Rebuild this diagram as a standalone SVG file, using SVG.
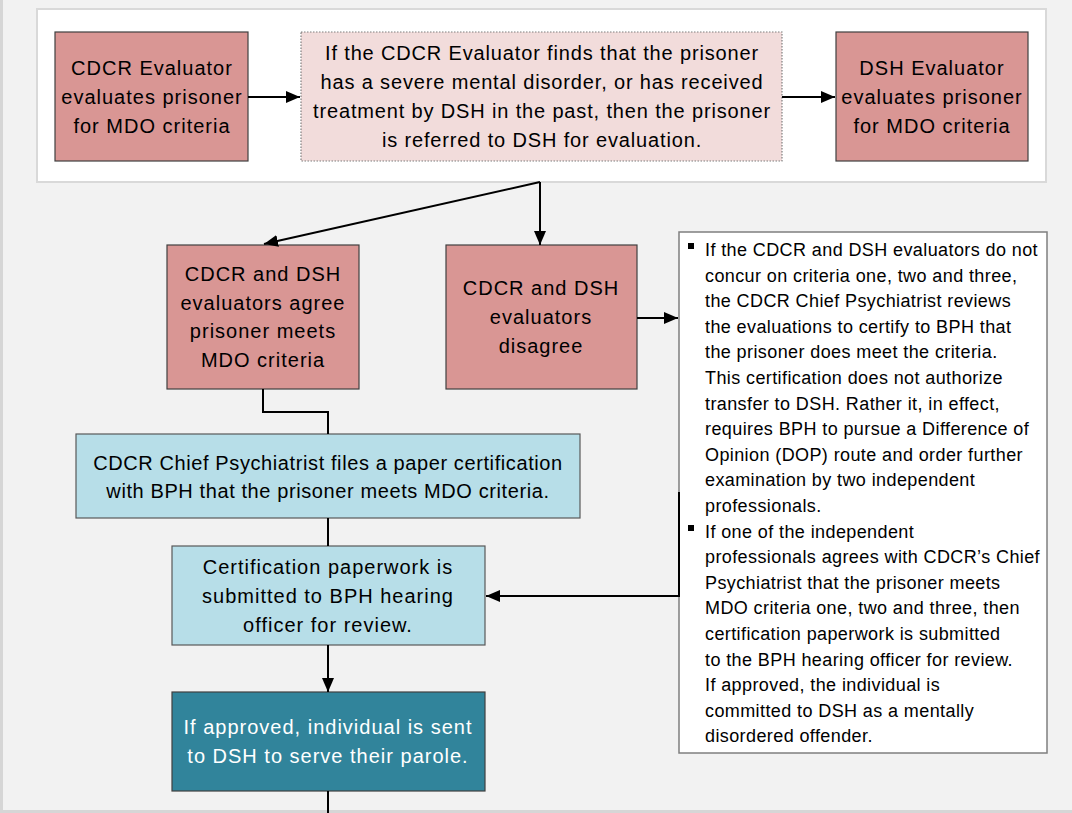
<svg xmlns="http://www.w3.org/2000/svg" width="1072" height="813" viewBox="0 0 1072 813">
<defs>
<marker id="arr" markerUnits="userSpaceOnUse" markerWidth="14" markerHeight="12" refX="14" refY="6" orient="auto">
<path d="M0,0 L14,6 L0,12 z" fill="#000"/>
</marker>
<style>
.bg{fill:#f2f2f2}
.red{fill:#d99694;stroke:#404040;stroke-width:1.2}
.pink{fill:#f2dcdb;stroke:#7f7f7f;stroke-width:1.2;stroke-dasharray:1.5 1.5}
.blue{fill:#b7dee8;stroke:#595959;stroke-width:1.2}
.teal{fill:#31849b;stroke:#404040;stroke-width:1.2}
.note{fill:#fff;stroke:#7f7f7f;stroke-width:1.5}
.t{font-family:"Liberation Sans",Arial,sans-serif;font-size:20px;letter-spacing:1px;fill:#000;text-anchor:middle}
.t2{letter-spacing:0.85px}
.t3{letter-spacing:0.6px}
.w{fill:#fff}
.n{font-family:"Liberation Sans",Arial,sans-serif;font-size:18px;letter-spacing:0.4px;fill:#000}
.c{fill:none;stroke:#000;stroke-width:2}
</style>
</defs>
<rect class="bg" x="0" y="0" width="1072" height="813"/>
<rect x="0" y="0" width="3" height="813" fill="#d6d6d6"/>
<rect x="0" y="810" width="1072" height="3" fill="#d6d6d6"/>
<rect x="37" y="9" width="1009" height="173" fill="#fff" stroke="#d9d9d9" stroke-width="2"/>

<g id="cdcr-evaluator">
<rect class="red" x="55" y="32" width="193" height="129"/>
<text class="t" x="152" y="75">CDCR Evaluator</text>
<text class="t" x="152" y="104">evaluates prisoner</text>
<text class="t" x="152" y="133">for MDO criteria</text>
</g>
<g id="referral">
<rect class="pink" x="301" y="32" width="481" height="129"/>
<text class="t t2" x="542" y="60">If the CDCR Evaluator finds that the prisoner</text>
<text class="t t2" x="542" y="89">has a severe mental disorder, or has received</text>
<text class="t t2" x="542" y="118">treatment by DSH in the past, then the prisoner</text>
<text class="t t2" x="542" y="147">is referred to DSH for evaluation.</text>
</g>
<g id="dsh-evaluator">
<rect class="red" x="836" y="32" width="192" height="129"/>
<text class="t" x="932" y="75">DSH Evaluator</text>
<text class="t" x="932" y="104">evaluates prisoner</text>
<text class="t" x="932" y="133">for MDO criteria</text>
</g>
<g id="agree">
<rect class="red" x="167" y="245" width="192" height="144"/>
<text class="t" x="263" y="281">CDCR and DSH</text>
<text class="t" x="263" y="310">evaluators agree</text>
<text class="t" x="263" y="338">prisoner meets</text>
<text class="t" x="263" y="367">MDO criteria</text>
</g>
<g id="disagree">
<rect class="red" x="446" y="245" width="191" height="144"/>
<text class="t" x="541" y="295">CDCR and DSH</text>
<text class="t" x="541" y="324">evaluators</text>
<text class="t" x="541" y="353">disagree</text>
</g>
<g id="dop-note">
<rect class="note" x="679" y="232" width="368" height="521"/>
<rect x="688" y="243" width="6" height="6" fill="#000"/>
<rect x="688" y="525" width="6" height="6" fill="#000"/>
<text class="n" x="705" y="256">If the CDCR and DSH evaluators do not</text>
<text class="n" x="705" y="281.6">concur on criteria one, two and three,</text>
<text class="n" x="705" y="307.2">the CDCR Chief Psychiatrist reviews</text>
<text class="n" x="705" y="332.8">the evaluations to certify to BPH that</text>
<text class="n" x="705" y="358.4">the prisoner does meet the criteria.</text>
<text class="n" x="705" y="384">This certification does not authorize</text>
<text class="n" x="705" y="409.6">transfer to DSH. Rather it, in effect,</text>
<text class="n" x="705" y="435.2">requires BPH to pursue a Difference of</text>
<text class="n" x="705" y="460.8">Opinion (DOP) route and order further</text>
<text class="n" x="705" y="486.4">examination by two independent</text>
<text class="n" x="705" y="512">professionals.</text>
<text class="n" x="705" y="537.6">If one of the independent</text>
<text class="n" x="705" y="563.2">professionals agrees with CDCR’s Chief</text>
<text class="n" x="705" y="588.8">Psychiatrist that the prisoner meets</text>
<text class="n" x="705" y="614.4">MDO criteria one, two and three, then</text>
<text class="n" x="705" y="640">certification paperwork is submitted</text>
<text class="n" x="705" y="665.6">to the BPH hearing officer for review.</text>
<text class="n" x="705" y="691.2">If approved, the individual is</text>
<text class="n" x="705" y="716.8">committed to DSH as a mentally</text>
<text class="n" x="705" y="742.4">disordered offender.</text>
</g>
<g id="chief-psych">
<rect class="blue" x="76" y="434" width="504" height="84"/>
<text class="t t3" x="328" y="470">CDCR Chief Psychiatrist files a paper certification</text>
<text class="t t3" x="328" y="498">with BPH that the prisoner meets MDO criteria.</text>
</g>
<g id="certification">
<rect class="blue" x="172" y="546" width="313" height="99"/>
<text class="t" x="328" y="574">Certification paperwork is</text>
<text class="t" x="328" y="603">submitted to BPH hearing</text>
<text class="t" x="328" y="632">officer for review.</text>
</g>
<g id="approved">
<rect class="teal" x="172" y="692" width="313" height="99"/>
<text class="t w" x="328" y="734">If approved, individual is sent</text>
<text class="t w" x="328" y="763">to DSH to serve their parole.</text>
</g>

<g id="connectors">
<path class="c" d="M248,97 H300" marker-end="url(#arr)"/>
<path class="c" d="M782,97 H835" marker-end="url(#arr)"/>
<path class="c" d="M540,182 V245" marker-end="url(#arr)"/>
<path class="c" d="M540,182 L264,244" marker-end="url(#arr)"/>
<path class="c" d="M637,318 H678" marker-end="url(#arr)"/>
<path class="c" d="M263,389 V412 H328 V434"/>
<path class="c" d="M328,518 V546"/>
<path class="c" d="M679,492 V596 H486" marker-end="url(#arr)"/>
<path class="c" d="M328,645 V692" marker-end="url(#arr)"/>
<path class="c" d="M328,791 V813"/>
</g>
</svg>
